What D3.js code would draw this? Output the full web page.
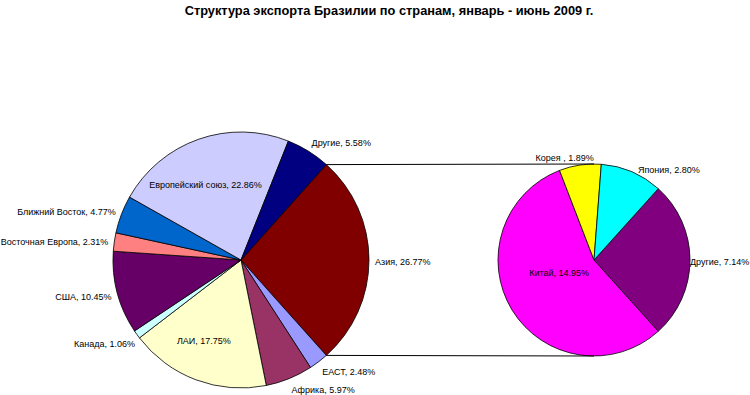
<!DOCTYPE html>
<html>
<head>
<meta charset="utf-8">
<script src="https://cdn.jsdelivr.net/npm/d3@7"></script>
<style>
  body { margin: 0; background: #fff; }
  text { font-family: Arial, "Liberation Sans", sans-serif; }
</style>
</head>
<body>
<div class="chart"></div>
<script>
// main pie, clockwise starting with the split-off slice (Азия)
var mainNames = ['Азия', 'ЕАСТ', 'Африка', 'ЛАИ', 'Канада', 'США', 'Восточная Европа', 'Ближний Восток', 'Европейский союз', 'Другие']
var mainValues = [26.77, 2.48, 5.97, 17.75, 1.06, 10.45, 2.31, 4.77, 22.86, 5.58]
var mainColors = ['#800000', '#9999ff', '#993366', '#ffffcc', '#ccffff', '#660066', '#ff8080', '#0066cc', '#ccccff', '#000080']
var mainInside = ['ЛАИ', 'Европейский союз']

// secondary pie = breakdown of Азия
var subNames = ['Другие', 'Китай', 'Корея ', 'Япония']
var subValues = [7.14, 14.95, 1.89, 2.80]
var subColors = ['#800080', '#ff00ff', '#ffff00', '#00ffff']
var subInside = ['Китай']

var title = 'Структура экспорта Бразилии по странам, январь - июнь 2009 г.'

var W = 750, H = 395

var svg = d3.select('.chart')
  .append('svg')
    .attr('width', W)
    .attr('height', H)

svg.append('text')
  .attr('x', 389)
  .attr('y', 15)
  .attr('text-anchor', 'middle')
  .style('font-size', '12.8px')
  .style('font-weight', 'bold')
  .text(title)

function drawPie (opts) {
  var total = d3.sum(opts.values)
  var first = opts.values[0] / total * Math.PI
  // first slice centred on the right side (3 o'clock)
  var pie = d3.pie().sort(null)
    .startAngle(Math.PI / 2 - first)
    .endAngle(Math.PI / 2 - first + 2 * Math.PI)
  var arcs = pie(opts.values)
  var arc = d3.arc().innerRadius(0).outerRadius(opts.r)

  var g = svg.append('g')
    .attr('transform', `translate(${opts.cx},${opts.cy})`)

  g.selectAll('path')
    .data(arcs)
    .enter()
    .append('path')
      .attr('d', arc)
      .style('fill', (d, i) => opts.colors[i])
      .style('stroke', '#000')
      .style('stroke-width', 0.8)

  g.selectAll('text')
    .data(arcs)
    .enter()
    .append('text')
      .style('font-size', '9px')
      .attr('dy', '0.5em')
      .each(function (d, i) {
        var name = opts.names[i]
        var a = (d.startAngle + d.endAngle) / 2
        var s = Math.sin(a), c = Math.cos(a)
        var n = opts.nudge[name] || [0, 0]
        var t = d3.select(this)
        if (opts.inside.indexOf(name) >= 0) {
          var rr = opts.r * 0.67
          t.attr('x', s * rr + n[0]).attr('y', -c * rr + n[1])
            .attr('text-anchor', 'middle')
        } else {
          var ro = opts.r + opts.gap
          var anchor = Math.abs(s) < 0.3 ? 'middle' : (s > 0 ? 'start' : 'end')
          t.attr('x', s * ro + n[0]).attr('y', -c * ro - c * 5 + n[1])
            .attr('text-anchor', anchor)
        }
        t.text(name + ', ' + opts.values[i].toFixed(2) + '%')
      })

  return arcs
}

var main = { cx: 241, cy: 260, r: 128 }
var sub = { cx: 594, cy: 260, r: 96 }

var mainArcs = drawPie({
  cx: main.cx, cy: main.cy, r: main.r, gap: 6,
  names: mainNames, values: mainValues, colors: mainColors,
  inside: mainInside,
  nudge: { 'ЛАИ': [-7, -1], 'Европейский союз': [-7, 4], 'Канада': [3, 2] }
})

drawPie({
  cx: sub.cx, cy: sub.cy, r: sub.r, gap: 3,
  names: subNames, values: subValues, colors: subColors,
  inside: subInside,
  nudge: { 'Китай': [20, -22], 'Корея ': [-15, -1], 'Япония': [5, 4], 'Другие': [-3, 0] }
})

// connector lines from the split slice to the secondary pie
var split = mainArcs[0]
var ends = [split.startAngle, split.endAngle]
ends.forEach(function (a, i) {
  svg.append('line')
    .attr('x1', main.cx + main.r * Math.sin(a))
    .attr('y1', main.cy - main.r * Math.cos(a))
    .attr('x2', sub.cx)
    .attr('y2', i === 0 ? sub.cy - sub.r : sub.cy + sub.r)
    .style('stroke', '#000')
    .style('stroke-width', 1)
})
</script>
</body>
</html>
